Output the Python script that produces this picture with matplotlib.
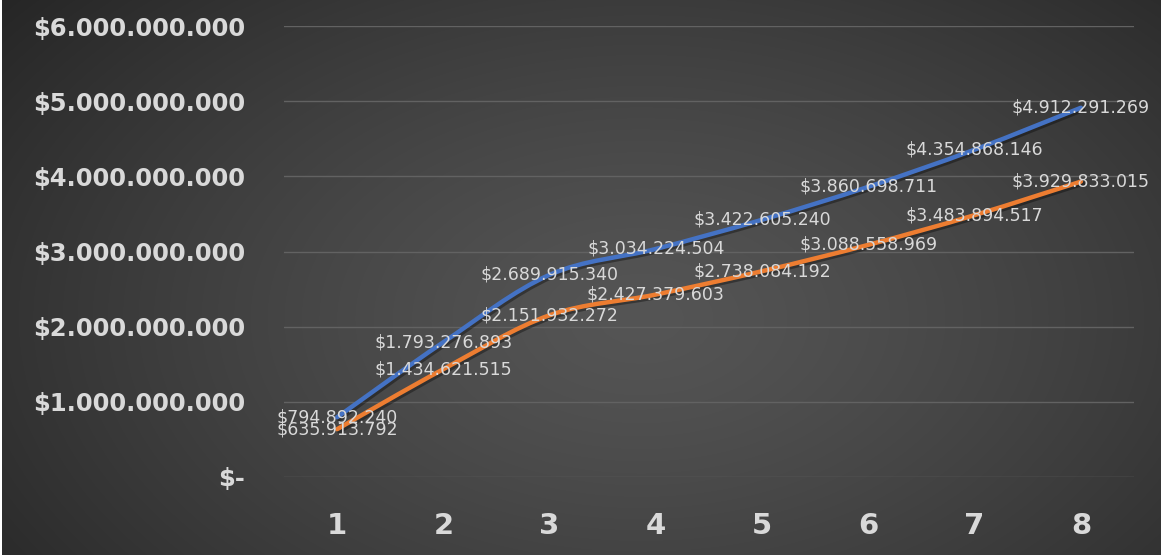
import numpy as np
import matplotlib
matplotlib.use("Agg")
import matplotlib.pyplot as plt
from matplotlib.path import Path
from matplotlib.patches import PathPatch
from matplotlib.ticker import FuncFormatter
import matplotlib.patheffects as pe

# Datos de las dos series
periodos = [1, 2, 3, 4, 5, 6, 7, 8]
serie_azul = [794892240, 1793276893, 2689915340, 3034224504,
              3422605240, 3860698711, 4354868146, 4912291269]
serie_naranja = [635913792, 1434621515, 2151932272, 2427379603,
                 2738084192, 3088558969, 3483894517, 3929833015]
ticks_y = [0, 1e9, 2e9, 3e9, 4e9, 5e9, 6e9]

azul = "#4472C4"
naranja = "#ED7D31"
gris_texto = "#d9d9d9"


def pesos(v):
    if v == 0:
        return "$-"
    return "$" + f"{int(round(v)):,}".replace(",", ".")


def curva_suave(xs, ys):
    # curva tipo Catmull-Rom con segmentos Bezier (linea suavizada)
    pts = np.column_stack([xs, ys]).astype(float)
    n = len(pts)
    verts = [pts[0]]
    codes = [Path.MOVETO]
    for i in range(n - 1):
        p0 = pts[i - 1] if i > 0 else pts[i]
        p1 = pts[i]
        p2 = pts[i + 1]
        p3 = pts[i + 2] if i + 2 < n else pts[i + 1]
        c1 = p1 + (p2 - p0) / 6.0
        c2 = p2 - (p3 - p1) / 6.0
        verts += [c1, c2, p2]
        codes += [Path.CURVE4] * 3
    return Path(verts, codes)


W, H = 1161, 558
fig = plt.figure(figsize=(W / 100, H / 100), dpi=100)
fig.patch.set_facecolor("white")

# fondo con degradado radial
bg = fig.add_axes([2 / W, 3 / H, 1 - 2 / W, 1 - 3 / H])
bg.set_axis_off()
yy, xx = np.mgrid[0:H, 0:W]
d = np.sqrt(((xx - 640) / 640.0) ** 2 + ((yy - 320) / 400.0) ** 2)
t = np.clip(d / 1.3, 0, 1) ** 1.3
v = (0x55 - 0x30 * t) / 255.0
bg.imshow(np.dstack([v, v, v]), aspect="auto", interpolation="bilinear")

ax = fig.add_axes([284 / W, 1 - 477 / H, (1134 - 284) / W, (477 - 26) / H])
ax.set_facecolor("none")
ax.set_xlim(0.5, 8.5)
ax.set_ylim(0, 6e9)
ax.set_yticks(ticks_y)
ax.yaxis.set_major_formatter(FuncFormatter(lambda v, p: pesos(v)))
ax.set_xticks(periodos)
ax.grid(axis="y", color="#626262", linewidth=1)
ax.set_axisbelow(True)
for s in ax.spines.values():
    s.set_visible(False)
ax.tick_params(axis="y", length=0, pad=28, labelsize=17.5, labelcolor=gris_texto)
ax.tick_params(axis="x", length=0, pad=25, labelsize=21, labelcolor=gris_texto)
for lab in ax.get_yticklabels() + ax.get_xticklabels():
    lab.set_fontweight("bold")

sombra = [pe.SimpleLineShadow(offset=(1.5, -1.5), shadow_color="black", alpha=0.35),
          pe.Normal()]
for serie, color in [(serie_azul, azul), (serie_naranja, naranja)]:
    patch = PathPatch(curva_suave(periodos, serie), facecolor="none",
                      edgecolor=color, linewidth=3.2, capstyle="round",
                      joinstyle="round", zorder=3)
    patch.set_path_effects(sombra)
    ax.add_patch(patch)

# etiquetas de datos centradas en cada punto
for serie in [serie_azul, serie_naranja]:
    for x, y in zip(periodos, serie):
        ax.text(x, y, pesos(y), ha="center", va="center", fontsize=12.5,
                color=gris_texto, zorder=4)

fig.savefig("out.png", dpi=100)
